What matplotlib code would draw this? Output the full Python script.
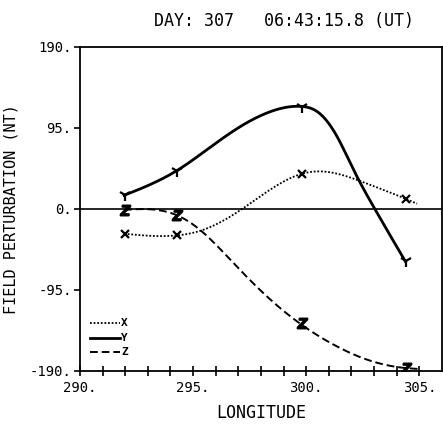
import numpy as np
import matplotlib
matplotlib.use("Agg")
import matplotlib.pyplot as plt

# ---- data ----
# marked sample points
lon = [292.0, 294.3, 299.8, 304.4]
bx = [-29.0, -31.0, 41.0, 12.0]
by = [16.0, 45.0, 120.0, -61.0]
bz = [-1.0, -7.0, -134.0, -186.5]

# points
cx_lon = [291.95, 294.28, 295.46, 297.23, 299.77, 300.62, 302.61, 304.38, 304.90]
cx_val = [-29.0, -31.0, -24.3, 1.2, 41.0, 44.1, 30.5, 12.1, 6.2]
cy_lon = [291.95, 294.28, 295.31, 296.78, 298.26, 299.77, 300.47, 301.36, 302.09, 303.05, 304.38]
cy_val = [16.0, 45.0, 63.7, 91.5, 112.6, 120.3, 114.5, 85.1, 46.1, -0.8, -61.4]
cz_lon = [291.95, 294.28, 295.31, 296.78, 298.26, 299.73, 301.21, 302.69, 304.38, 304.97]
cz_val = [-1.0, -7.3, -24.6, -63.3, -102.5, -134.5, -159.1, -176.7, -186.5, -187.6]

xticks = [290, 295, 300, 305]
xticklabels = ["290.", "295.", "300.", "305."]
yticks = [-190, -95, 0, 95, 190]
yticklabels = ["-190.", "-95.", "0.", "95.", "190."]
title = "DAY: 307   06:43:15.8 (UT)"
xlabel = "LONGITUDE"
ylabel = "FIELD PERTURBATION (NT)"
names = ["X", "Y", "Z"]


def smooth(xs, ys, n=400):
    """Natural cubic spline used only to render a smooth line through read points."""
    xs = np.asarray(xs, float); ys = np.asarray(ys, float)
    m = len(xs)
    h = np.diff(xs)
    A = np.zeros((m, m)); r = np.zeros(m)
    A[0, 0] = A[-1, -1] = 1
    for i in range(1, m - 1):
        A[i, i - 1] = h[i - 1]; A[i, i] = 2 * (h[i - 1] + h[i]); A[i, i + 1] = h[i]
        r[i] = 6 * ((ys[i + 1] - ys[i]) / h[i] - (ys[i] - ys[i - 1]) / h[i - 1])
    M = np.linalg.solve(A, r)
    xx = np.linspace(xs[0], xs[-1], n)
    idx = np.clip(np.searchsorted(xs, xx) - 1, 0, m - 2)
    x0 = xs[idx]; x1 = xs[idx + 1]; hh = x1 - x0
    a = (x1 - xx) / hh; b = (xx - x0) / hh
    yy = a * ys[idx] + b * ys[idx + 1] + ((a**3 - a) * M[idx] + (b**3 - b) * M[idx + 1]) * hh**2 / 6
    return xx, yy


plt.rcParams['font.family'] = ['DejaVu Sans Mono', 'DejaVu Sans']
fig = plt.figure(figsize=(4.43, 4.24), dpi=100)
ax = fig.add_axes([0.1806, 0.125, 0.8171, 0.7642])

styles = [dict(ls=(0, (1, 1)), lw=1.3), dict(ls='-', lw=2.0), dict(ls=(0, (4, 2)), lw=1.4)]
markers = ['x', '1', '$Z$']
msizes = [6, 9, 7]
curves = [(cx_lon, cx_val), (cy_lon, cy_val), (cz_lon, cz_val)]
for (cl, cv), ser, st, mk, ms in zip(curves, [bx, by, bz], styles, markers, msizes):
    xx, yy = smooth(cl, cv)
    ax.plot(xx, yy, color='black', **st)
    ax.plot(lon, ser, ls='none', marker=mk, ms=ms, mew=1.6, color='black')

ax.axhline(0, color='black', lw=1.2)
ax.set_xlim(290, 306.0)
ax.set_ylim(-190, 190)
for s in ax.spines.values():
    s.set_linewidth(1.3)

ax.set_xticks(xticks)
ax.set_xticklabels(xticklabels, fontsize=10)
ax.set_xticks(np.arange(290, 306, 1), minor=True)
ax.tick_params(axis='x', which='both', direction='inout', length=7, width=1.2, pad=4)
ax.set_yticks(yticks)
ax.set_yticklabels(yticklabels, fontsize=10)
ax.tick_params(axis='y', direction='out', length=4, width=1.2, pad=2)

ax.set_xlabel(xlabel, fontsize=12, labelpad=6)
ax.set_ylabel(ylabel, fontsize=11, labelpad=8)
fig.text(0.64, 0.95, title, fontsize=12, ha='center', va='center')

# legend drawn in axes coordinates
leg_y = [0.148, 0.102, 0.059]
for name, st, yy in zip(names, styles, leg_y):
    ax.plot([0.028, 0.110], [yy, yy], transform=ax.transAxes, color='black', **st)
    ax.text(0.113, yy, name, transform=ax.transAxes, fontsize=8, fontweight='bold',
            ha='left', va='center')

fig.savefig("out.png", dpi=100)
